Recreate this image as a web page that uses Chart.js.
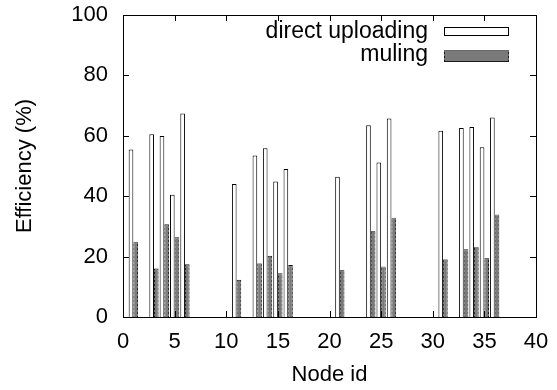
<!DOCTYPE html>
<html>
<head>
<meta charset="utf-8">
<script src="https://cdn.jsdelivr.net/npm/chart.js@4.4.1/dist/chart.umd.min.js"></script>
<style>
  html, body { margin: 0; padding: 0; background: #fff; }
  #wrap { width: 557px; height: 390px; position: relative; }
</style>
</head>
<body>
<div id="wrap"><canvas id="chart"></canvas></div>
<script>
'use strict';

/* ── Data ── */
const nodeIds         = [1, 3, 4, 5, 6, 11, 13, 14, 15, 16, 21, 24, 25, 26, 31, 33, 34, 35, 36];
const directUploading = [55.5, 60.5, 59.9, 40.5, 67.4, 44.0, 53.5, 55.9, 44.9, 49.0, 46.4, 63.5, 51.2, 65.7, 61.7, 62.6, 62.9, 56.2, 66.1];
const muling          = [24.9, 16.1, 30.7, 26.4, 17.5, 12.3, 17.8, 20.3, 14.5, 17.2, 15.6, 28.5, 16.7, 32.9, 19.1, 22.4, 23.3, 19.5, 33.9];
const seriesLabels    = ['direct uploading', 'muling'];
const xTicks          = [0, 5, 10, 15, 20, 25, 30, 35, 40];
const yTicks          = [0, 20, 40, 60, 80, 100];

const FONT = 'Liberation Sans, Arial, Helvetica, sans-serif';

// dashed dark edge for the muling bars
function dashPattern() {
  const c = document.createElement('canvas');
  c.width = 4; c.height = 4;
  const g = c.getContext('2d');
  g.fillStyle = '#6a6a6a'; g.fillRect(0, 0, 4, 4);
  g.fillStyle = '#1a1a1a'; g.fillRect(0, 0, 4, 2);
  return g.createPattern(c, 'repeat');
}
const mulingEdge = dashPattern();

const toPoints = vals => nodeIds.map((id, i) => ({ x: id, y: vals[i] }));

/* ── gnuplot style frame, inward ticks and key ── */
const framePlugin = {
  id: 'frame',
  afterDraw(chart) {
    const { ctx, chartArea: a, scales: { x, y } } = chart;
    ctx.save();
    ctx.strokeStyle = '#000';
    ctx.lineWidth = 1;
    ctx.strokeRect(a.left + 0.5, a.top + 0.5, a.right - a.left, a.bottom - a.top);
    ctx.beginPath();
    xTicks.forEach(v => {
      const px = Math.round(x.getPixelForValue(v)) + 0.5;
      ctx.moveTo(px, a.bottom); ctx.lineTo(px, a.bottom - 6);
      ctx.moveTo(px, a.top);    ctx.lineTo(px, a.top + 6);
    });
    yTicks.forEach(v => {
      const py = Math.round(y.getPixelForValue(v)) + 0.5;
      ctx.moveTo(a.left, py);  ctx.lineTo(a.left + 6, py);
      ctx.moveTo(a.right, py); ctx.lineTo(a.right - 6, py);
    });
    ctx.stroke();

    // key, top right
    ctx.font = '23px ' + FONT;
    ctx.fillStyle = '#000';
    ctx.textAlign = 'right';
    ctx.textBaseline = 'middle';
    ctx.fillText(seriesLabels[0], 428, 32);
    ctx.fillText(seriesLabels[1], 428, 55);

    ctx.fillStyle = '#fff';
    ctx.fillRect(444.5, 27.5, 64, 8);
    ctx.strokeStyle = '#000';
    ctx.strokeRect(444.5, 27.5, 64, 8);

    ctx.fillStyle = mulingEdge;
    ctx.fillRect(444, 50, 65, 12);
    ctx.fillStyle = '#7a7a7a';
    ctx.fillRect(445, 51, 63, 10);
    ctx.restore();
  }
};

const noPad = s => { s.paddingTop = 0; s.paddingBottom = 0; s.paddingLeft = 0; s.paddingRight = 0; };

new Chart(document.getElementById('chart'), {
  type: 'bar',
  data: {
    datasets: [
      {
        label: seriesLabels[0],
        data: toPoints(directUploading),
        backgroundColor: '#ffffff',
        borderColor: '#000000',
        borderWidth: 1,
        borderSkipped: 'bottom',
      },
      {
        label: seriesLabels[1],
        data: toPoints(muling),
        backgroundColor: '#7a7a7a',
        borderColor: mulingEdge,
        borderWidth: 1,
        borderSkipped: 'bottom',
      },
    ],
  },
  options: {
    responsive: true,
    maintainAspectRatio: false,
    animation: false,
    layout: { padding: { top: 15, right: 21, left: 0, bottom: 0 } },
    datasets: { bar: { categoryPercentage: 0.9, barPercentage: 1.0 } },
    plugins: {
      legend: { display: false },
      tooltip: { enabled: false },
    },
    scales: {
      x: {
        type: 'linear',
        min: 0,
        max: 40,
        offset: false,
        grid: { display: false, drawTicks: false, offset: false },
        border: { display: false },
        afterBuildTicks: s => { s.ticks = xTicks.map(v => ({ value: v })); },
        ticks: { color: '#000', font: { family: FONT, size: 22 }, padding: 12, maxRotation: 0, autoSkip: false },
        title: { display: true, text: 'Node id', color: '#000', font: { family: FONT, size: 22 }, padding: { top: 0, bottom: 2 } },
        afterFit: s => { s.height = 73; noPad(s); },
      },
      y: {
        min: 0,
        max: 100,
        grid: { display: false, drawTicks: false },
        border: { display: false },
        afterBuildTicks: s => { s.ticks = yTicks.map(v => ({ value: v })); },
        ticks: { color: '#000', font: { family: FONT, size: 22 }, padding: 15 },
        title: { display: true, text: 'Efficiency (%)', color: '#000', font: { family: FONT, size: 22 }, padding: { top: 12, bottom: 0 } },
        afterFit: s => { s.width = 123; noPad(s); },
      },
    },
  },
  plugins: [framePlugin],
});
</script>
</body>
</html>
